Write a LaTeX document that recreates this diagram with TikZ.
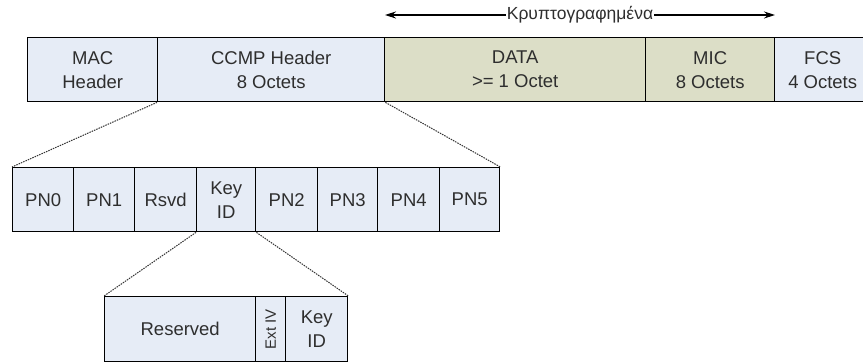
\documentclass[tikz,border=0pt]{standalone}
\usepackage{fontspec}
\setmainfont{Liberation Sans}
\usetikzlibrary{arrows.meta}
\definecolor{hdrblue}{HTML}{E6ECF6}
\definecolor{encgreen}{HTML}{DCDEC7}
\definecolor{txt}{HTML}{2E2E2E}
\tikzset{
  field/.style={draw=black, line width=1.4pt, anchor=north west, inner sep=0pt,
    align=center, text=txt, font=\fontsize{18.5}{24}\selectfont},
  bluefield/.style={field, fill=hdrblue},
  greenfield/.style={field, fill=encgreen},
  zoomline/.style={draw=black!80, line width=1pt, dash pattern=on 1.5pt off 1pt},
  span/.style={line width=1.1pt, {Stealth[length=11pt,width=7pt]}-{Stealth[length=11pt,width=7pt]}}
}
\begin{document}
\begin{tikzpicture}[x=1pt,y=-1pt]
\useasboundingbox (0,0) rectangle (863,363);

% frame fields
\node[bluefield, minimum width=130, minimum height=64] (mac) at (27,37) {MAC\\Header};
\node[bluefield, minimum width=227, minimum height=64] (ccmp) at (157,37) {CCMP Header\\8 Octets};
\node[greenfield, minimum width=261, minimum height=64] (data) at (384,37) {DATA\\>= 1 Octet};
\node[greenfield, minimum width=129, minimum height=64] (mic) at (645,37) {MIC\\8 Octets};
\node[bluefield, minimum width=96, minimum height=64] (fcs) at (774,37) {FCS\\4 Octets};

% encrypted span
\coordinate (encl) at (385,15);
\coordinate (encr) at (775,15);
\draw[span] (encl) -- (encr) node[midway, fill=white, inner sep=1pt, text=txt,
  font=\fontsize{17.5}{20}\selectfont] (enc) {Κρυπτογραφημένα};

% CCMP header octets
\node[bluefield, minimum width=61, minimum height=64] (pn0) at (12,167) {PN0};
\node[bluefield, minimum width=61, minimum height=64] (pn1) at (73,167) {PN1};
\node[bluefield, minimum width=62, minimum height=64] (rsvd) at (134,167) {Rsvd};
\node[bluefield, minimum width=59, minimum height=64] (keyid) at (196,167) {Key\\ID};
\node[bluefield, minimum width=62, minimum height=64] (pn2) at (255,167) {PN2};
\node[bluefield, minimum width=60, minimum height=64] (pn3) at (317,167) {PN3};
\node[bluefield, minimum width=62, minimum height=64] (pn4) at (377,167) {PN4};
\node[bluefield, minimum width=60, minimum height=64] (pn5) at (439,167) {PN5};

% Key ID octet bits
\node[bluefield, minimum width=151, minimum height=65] (resv) at (104,296) {Reserved};
\node[bluefield, minimum width=30, minimum height=65] (extiv) at (255,296) {};
\node[text=txt, rotate=90, font=\fontsize{15}{17}\selectfont, inner sep=0pt] (extivlbl) at (extiv.center) {Ext IV};
\node[bluefield, minimum width=62, minimum height=65] (kid) at (285,296) {Key\\ID};

% expansion lines
\draw[zoomline] (ccmp.south west) -- (pn0.north west);
\draw[zoomline] (ccmp.south east) -- (pn5.north east);
\draw[zoomline] (keyid.south west) -- (resv.north west);
\draw[zoomline] (keyid.south east) -- (kid.north east);
\end{tikzpicture}
\end{document}
